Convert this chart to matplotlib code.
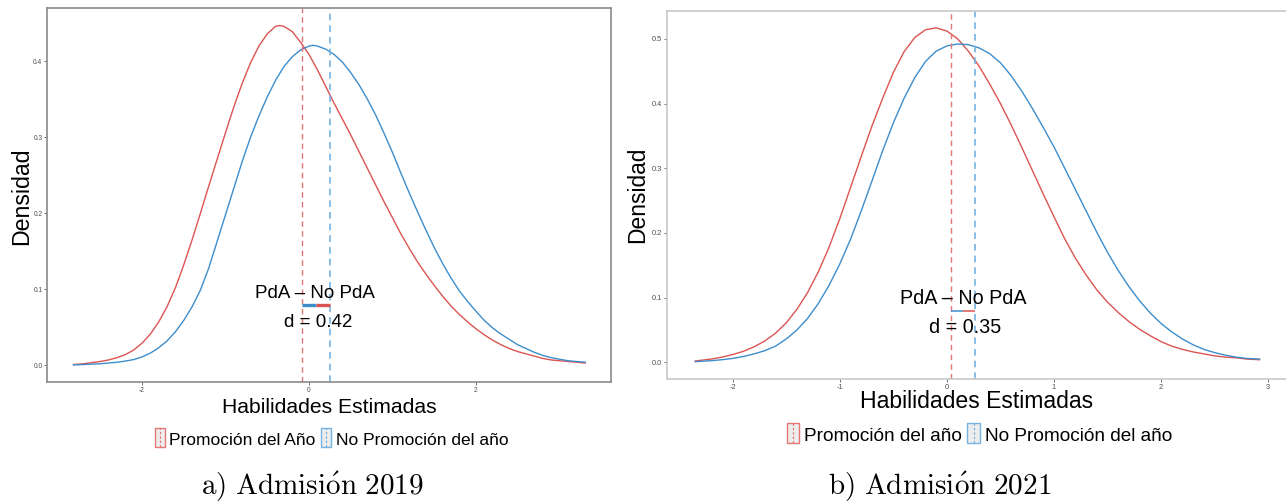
import matplotlib
matplotlib.use("Agg")
import matplotlib.pyplot as plt
from matplotlib.legend_handler import HandlerBase
from matplotlib.patches import Rectangle
from matplotlib.lines import Line2D

plt.rcParams["font.family"] = ["Liberation Sans", "DejaVu Sans"]
plt.rcParams["mathtext.fontset"] = "cm"
plt.rcParams["axes.unicode_minus"] = False

RED = "#DC5452"
BLUE = "#3D8DCB"
RED_V = "#E57676"
BLUE_V = "#74B3E2"

# --- Admision 2019
a_red_x = [-2.82, -2.7, -2.6, -2.5, -2.4, -2.3, -2.2, -2.1, -2.0, -1.9, -1.8, -1.7, -1.6, -1.5,
           -1.4, -1.3, -1.2, -1.1, -1.0, -0.9, -0.8, -0.7, -0.6, -0.5, -0.4, -0.35, -0.3, -0.2,
           -0.1, 0.0, 0.1, 0.2, 0.3, 0.4, 0.5, 0.6, 0.7, 0.8, 0.9, 1.0, 1.1, 1.2, 1.3, 1.4, 1.5,
           1.6, 1.7, 1.8, 1.9, 2.0, 2.1, 2.2, 2.3, 2.4, 2.5, 2.6, 2.7, 2.8, 2.9, 3.0, 3.1, 3.2, 3.31]
a_red_y = [0.001, 0.002, 0.0035, 0.005, 0.007, 0.010, 0.014, 0.020, 0.029, 0.041, 0.057, 0.077,
           0.102, 0.132, 0.165, 0.200, 0.236, 0.271, 0.306, 0.340, 0.371, 0.398, 0.420, 0.436,
           0.446, 0.447, 0.446, 0.439, 0.425, 0.409, 0.389, 0.367, 0.345, 0.324, 0.303, 0.281,
           0.259, 0.237, 0.215, 0.194, 0.173, 0.154, 0.136, 0.120, 0.105, 0.091, 0.078, 0.067,
           0.057, 0.048, 0.040, 0.033, 0.027, 0.022, 0.018, 0.015, 0.012, 0.009, 0.007, 0.006,
           0.005, 0.004, 0.003]
a_blue_x = [-2.82, -2.7, -2.6, -2.5, -2.4, -2.3, -2.2, -2.1, -2.0, -1.9, -1.8, -1.7, -1.6, -1.5,
            -1.4, -1.3, -1.2, -1.1, -1.0, -0.9, -0.8, -0.7, -0.6, -0.5, -0.4, -0.3, -0.2, -0.1,
            0.0, 0.05, 0.1, 0.2, 0.3, 0.4, 0.5, 0.6, 0.7, 0.8, 0.9, 1.0, 1.1, 1.2, 1.3, 1.4, 1.5,
            1.6, 1.7, 1.8, 1.9, 2.0, 2.1, 2.2, 2.3, 2.4, 2.5, 2.6, 2.7, 2.8, 2.9, 3.0, 3.1, 3.2, 3.31]
a_blue_y = [0.0005, 0.001, 0.0015, 0.002, 0.003, 0.004, 0.0055, 0.0075, 0.011, 0.016, 0.023,
            0.032, 0.044, 0.059, 0.077, 0.099, 0.128, 0.163, 0.198, 0.233, 0.268, 0.300, 0.328,
            0.353, 0.375, 0.393, 0.406, 0.415, 0.420, 0.421, 0.420, 0.416, 0.409, 0.399, 0.385,
            0.369, 0.350, 0.329, 0.305, 0.280, 0.253, 0.227, 0.202, 0.178, 0.155, 0.134, 0.115,
            0.098, 0.084, 0.071, 0.059, 0.049, 0.041, 0.034, 0.027, 0.022, 0.017, 0.013, 0.010,
            0.008, 0.006, 0.005, 0.004]
a_means = [-0.088, 0.25]  # PdA, No PdA
a_d = 0.42

# --- Admision 2021
b_red_x = [-2.35, -2.3, -2.2, -2.1, -2.0, -1.9, -1.8, -1.7, -1.6, -1.5, -1.4, -1.3, -1.2, -1.1,
           -1.0, -0.9, -0.8, -0.7, -0.6, -0.5, -0.4, -0.3, -0.2, -0.1, 0.0, 0.1, 0.2, 0.3, 0.4,
           0.5, 0.6, 0.7, 0.8, 0.9, 1.0, 1.1, 1.2, 1.3, 1.4, 1.5, 1.6, 1.7, 1.8, 1.9, 2.0, 2.1,
           2.2, 2.3, 2.4, 2.5, 2.6, 2.7, 2.8, 2.92]
b_red_y = [0.002, 0.003, 0.005, 0.008, 0.012, 0.017, 0.024, 0.033, 0.045, 0.061, 0.082, 0.108,
           0.140, 0.178, 0.222, 0.270, 0.318, 0.365, 0.408, 0.448, 0.480, 0.502, 0.514, 0.517,
           0.512, 0.500, 0.481, 0.458, 0.430, 0.400, 0.367, 0.332, 0.296, 0.260, 0.225, 0.191,
           0.161, 0.135, 0.112, 0.093, 0.077, 0.063, 0.051, 0.041, 0.032, 0.025, 0.020, 0.016,
           0.013, 0.010, 0.008, 0.007, 0.005, 0.004]
b_blue_x = [-2.35, -2.3, -2.2, -2.1, -2.0, -1.9, -1.8, -1.7, -1.6, -1.5, -1.4, -1.3, -1.2, -1.1,
            -1.0, -0.9, -0.8, -0.7, -0.6, -0.5, -0.4, -0.3, -0.2, -0.1, 0.0, 0.1, 0.2, 0.3, 0.4,
            0.5, 0.6, 0.7, 0.8, 0.9, 1.0, 1.1, 1.2, 1.3, 1.4, 1.5, 1.6, 1.7, 1.8, 1.9, 2.0, 2.1,
            2.2, 2.3, 2.4, 2.5, 2.6, 2.7, 2.8, 2.92]
b_blue_y = [0.001, 0.0015, 0.0025, 0.004, 0.006, 0.009, 0.013, 0.018, 0.025, 0.036, 0.050, 0.068,
            0.091, 0.119, 0.152, 0.190, 0.234, 0.280, 0.327, 0.370, 0.408, 0.440, 0.465, 0.481,
            0.489, 0.492, 0.491, 0.486, 0.477, 0.463, 0.443, 0.419, 0.392, 0.363, 0.333, 0.300,
            0.267, 0.234, 0.201, 0.170, 0.142, 0.117, 0.095, 0.076, 0.060, 0.047, 0.036, 0.027,
            0.020, 0.015, 0.011, 0.008, 0.006, 0.005]
b_means = [0.043, 0.266]
b_d = 0.35

W, H = 1286, 504


def fpos(x, y):
    return x / W, 1 - y / H


class VKey(HandlerBase):
    # legend key: grey box with coloured border and a dashed vertical line
    def create_artists(self, legend, orig, xd, yd, w, h, fs, trans):
        c = orig.get_color()
        box = Rectangle((xd, yd - 0.2 * h), w, 1.4 * h, fc="#EDEDED", ec=c, lw=1.0, transform=trans)
        ln = Line2D([xd + w / 2] * 2, [yd - 0.2 * h, yd + 1.2 * h], color=c, lw=0.9,
                    ls=(0, (2, 1.5)), transform=trans)
        return [box, ln]


def panel(ax, rx, ry, bx, by, means, d, xlim, ylim, xticks, yticks, spine_col, tsize,
          fsize, seg_lw, labels, leg_xy, leg_fs, handlelen, xl_xy, xl_fs, yl_xy, yl_fs, ann):
    ax.plot(rx, ry, color=RED, lw=1.0)
    ax.plot(bx, by, color=BLUE, lw=1.0)
    v1 = ax.axvline(means[0], color=RED_V, lw=1.0, ls=(0, (4, 3)))
    v2 = ax.axvline(means[1], color=BLUE_V, lw=1.2, ls=(0, (4, 3)))
    mid = (means[0] + means[1]) / 2
    seg_y = 0.0798
    ax.plot([means[0], mid], [seg_y, seg_y], color=BLUE, lw=seg_lw, solid_capstyle="butt")
    ax.plot([mid, means[1]], [seg_y, seg_y], color=RED, lw=seg_lw, solid_capstyle="butt")
    ax.text(ann[0], ann[1], "PdA – No PdA", ha="center", va="baseline", fontsize=fsize)
    ax.text(ann[2], ann[3], "d = %.2f" % d, ha="center", va="baseline", fontsize=fsize)
    ax.set_xlim(*xlim)
    ax.set_ylim(*ylim)
    ax.set_xticks(xticks)
    ax.set_yticks(yticks)
    ax.set_yticklabels(["%.1f" % t for t in yticks])
    ax.tick_params(labelsize=tsize, labelcolor="#4D4D4D", color="#555555", length=2, width=0.6, pad=1.5)
    for s in ax.spines.values():
        s.set_color(spine_col)
        s.set_linewidth(1.2)
    fig.text(*fpos(*xl_xy), "Habilidades Estimadas", ha="center", va="baseline", fontsize=xl_fs)
    fig.text(*fpos(*yl_xy), "Densidad", ha="center", va="center", rotation=90, fontsize=yl_fs)
    fig.legend([v1, v2], labels, handler_map={Line2D: VKey()}, loc="center",
               bbox_to_anchor=fpos(*leg_xy), ncol=2, frameon=False, fontsize=leg_fs,
               handlelength=handlelen, handleheight=0.8, handletextpad=0.25,
               columnspacing=0.3, borderpad=0, borderaxespad=0)


fig = plt.figure(figsize=(W / 100, H / 100), dpi=100)

ax_a = fig.add_axes([47.3 / W, 1 - 382.3 / H, (611 - 47.3) / W, (382.3 - 8.3) / H])
panel(ax_a, a_red_x, a_red_y, a_blue_x, a_blue_y, a_means, a_d,
      (-3.134, 3.617), (-0.0224, 0.4697), [-2, 0, 2], [0.0, 0.1, 0.2, 0.3, 0.4],
      "#8A8A8A", 4.8, 13.5, 2.4, ["Promoción del Año", "No Promoción del año"],
      (331.5, 440), 12.5, 0.6, (329, 413.3), 15.2, (22.0, 196), 16.7,
      (0.072, 0.089, 0.108, 0.0508))

ax_b = fig.add_axes([667 / W, 1 - 379 / H, (1287.8 - 667) / W, (379 - 11) / H])
panel(ax_b, b_red_x, b_red_y, b_blue_x, b_blue_y, b_means, b_d,
      (-2.6135, 3.1835), (-0.0258, 0.543), [-2, -1, 0, 1, 2, 3], [0.0, 0.1, 0.2, 0.3, 0.4, 0.5],
      "#C8C8C8", 5.3, 14.2, 1.1, ["Promoción del año", "No Promoción del año"],
      (979.3, 436), 13.7, 0.65, (977, 408.3), 16.6, (637.5, 195), 16.4,
      (0.152, 0.090, 0.173, 0.0458))

fig.text(*fpos(312, 495), r"$\mathrm{a)\ Admisi\acute{o}n\ 2019}$", ha="center", va="baseline", fontsize=21)
fig.text(*fpos(939.7, 495), r"$\mathrm{b)\ Admisi\acute{o}n\ 2021}$", ha="center", va="baseline", fontsize=21)

fig.savefig("out.png", dpi=100)
